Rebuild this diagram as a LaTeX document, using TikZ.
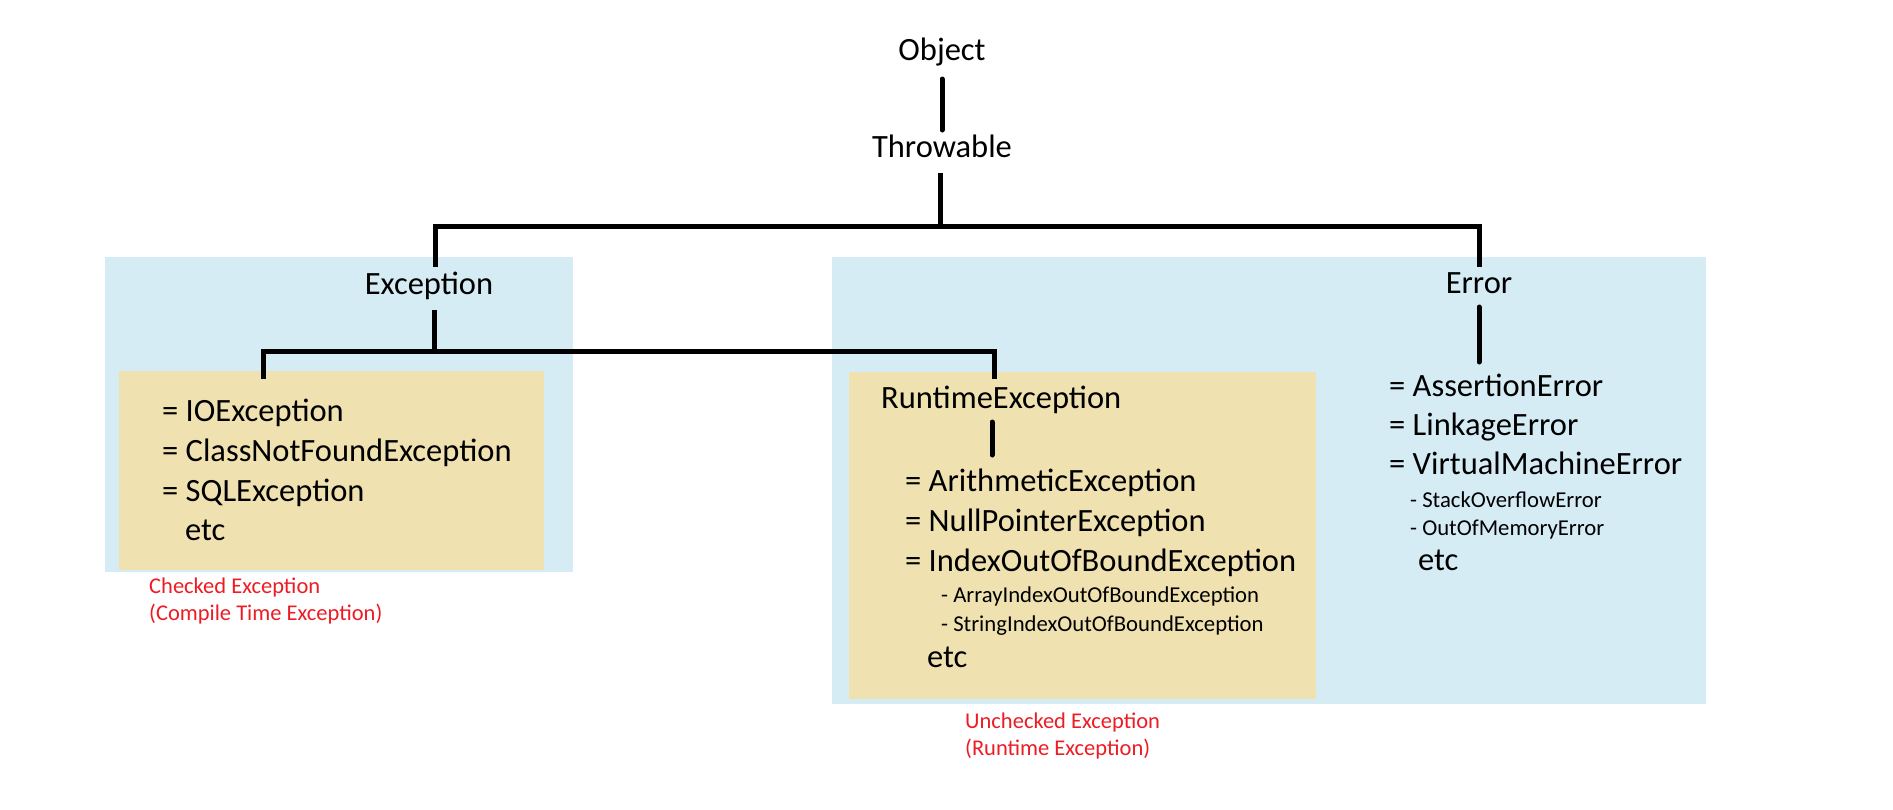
\documentclass[tikz,border=0pt]{standalone}
\usepackage{fontspec}
\setmainfont{Carlito}
\usetikzlibrary{calc}
\definecolor{boxblue}{RGB}{213,236,244}
\definecolor{boxtan}{RGB}{239,226,176}
\definecolor{notered}{RGB}{237,28,36}
\begin{document}
\begin{tikzpicture}[x=1pt,y=-1pt,
  conn/.style={line width=5pt, black, line join=miter},
  rconn/.style={conn, line cap=round},
  big/.style={font=\fontsize{32.5}{39}\selectfont, inner sep=0pt, anchor=base west},
  small/.style={font=\fontsize{22.7}{27}\selectfont, inner sep=0pt, anchor=base west},
  note/.style={font=\fontsize{22.5}{27}\selectfont, inner sep=0pt, anchor=base west, text=notered},
  head/.style={font=\fontsize{32.5}{39}\selectfont, inner sep=0pt, anchor=base}]
\useasboundingbox (0,0) rectangle (1893,809);
% group boxes
\fill[boxblue] (105,257) rectangle (573,572);
\fill[boxblue] (832,257) rectangle (1706,704);
\fill[boxtan] (119,371) rectangle (544,570);
\fill[boxtan] (849,372) rectangle (1316,699);
% headings
\node[head] (obj) at (942,60) {Object};
\node[head] (thr) at (942,157) {Throwable};
\node[head] (exc) at (429,294) {Exception};
\node[head] (err) at (1479,293) {Error};
\node[big] (rte) at (881,408) {RuntimeException};
% checked exceptions
\node[big] (io)  at (162,421) {= IOException};
\node[big] (cnf) at (162,461) {= ClassNotFoundException};
\node[big] (sql) at (162,501) {= SQLException};
\node[big] (etca) at (185,540) {etc};
% runtime exceptions
\node[big] (ari)  at (905,491) {= ArithmeticException};
\node[big] (npe)  at (905,531) {= NullPointerException};
\node[big] (ioob) at (905,571) {= IndexOutOfBoundException};
\node[small] (aioob) at (941,602) {- ArrayIndexOutOfBoundException};
\node[small] (sioob) at (941,631) {- StringIndexOutOfBoundException};
\node[big] (etcb) at (927,667) {etc};
% errors
\node[big] (ae)  at (1389,396) {= AssertionError};
\node[big] (le)  at (1389,435) {= LinkageError};
\node[big] (vme) at (1389,474) {= VirtualMachineError};
\node[small] (soe)  at (1410,507) {- StackOverflowError};
\node[small] (oome) at (1410,535) {- OutOfMemoryError};
\node[big] (etcc) at (1418,570) {etc};
% notes
\node[note] (chka) at (149,593) {Checked Exception};
\node[note] (chkb) at (149,620) {(Compile Time Exception)};
\node[note] (unca) at (965,728) {Unchecked Exception};
\node[note] (uncb) at (965,755) {(Runtime Exception)};
% connectors
\coordinate (tb) at (940,226);
\coordinate (eb) at (434,351);
\coordinate (lstub) at (263,379);
\coordinate (rstub) at (994,379);
\coordinate (rtebot) at (992,455);
\coordinate (errbot) at (1479,362);
\draw[rconn] ([yshift=-19pt]obj.base) -- ([yshift=27pt]thr.base);
\draw[conn] ($(tb |- thr.base)+(0,16)$) -- (tb);
\draw[conn] ([yshift=27pt,xshift=6pt]exc.base) |- (tb) -| ([yshift=26pt]err.base);
\draw[conn] ([yshift=-16pt,xshift=5pt]exc.base) -- (eb);
\draw[conn] (lstub) |- (eb) -| (rstub);
\draw[rconn] ($(rtebot |- rte.base)+(0,14)$) -- (rtebot);
\draw[rconn] ([yshift=-14pt]err.base) -- (errbot);
\end{tikzpicture}
\end{document}
